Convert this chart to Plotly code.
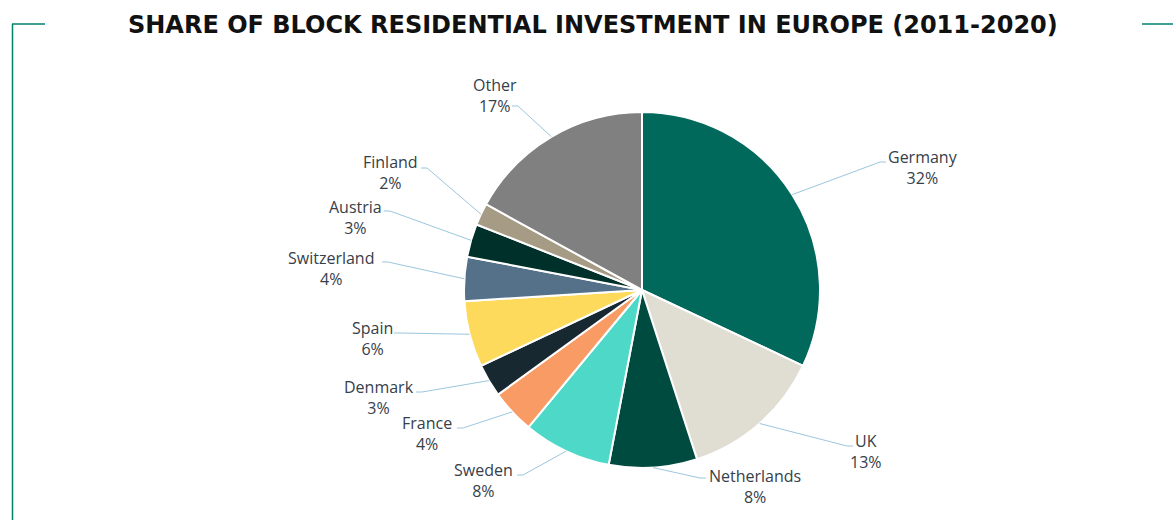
import math
import plotly.graph_objects as go

# ---- data ----
countries = ["Germany", "UK", "Netherlands", "Sweden", "France", "Denmark",
             "Spain", "Switzerland", "Austria", "Finland", "Other"]
shares = [32, 13, 8, 8, 4, 3, 6, 4, 3, 2, 17]
colors = ["#00695C", "#E0DDD3", "#004B40", "#4DD8C8", "#F99B65", "#172831",
          "#FDD95C", "#557189", "#00302A", "#A69C86", "#808080"]
title_text = "SHARE OF BLOCK RESIDENTIAL INVESTMENT IN EUROPE (2011-2020)"

# ---- layout (pixels) ----
W, H = 1173, 520
CX, CY, R = 642, 290, 178
# label text centres and leader elbows (pixel layout hints)
label_centres = [(923, 168), (866, 451), (755, 486), (483, 480), (427, 433),
                 (379, 397), (372, 338), (331, 268), (355, 217), (390, 173),
                 (495, 95)]
elbows = [(880, 162), (847, 446), (700, 478), (523, 475), (463, 428),
          (422, 392), (400, 333), (388, 262), (390, 211), (427, 168),
          (518, 106)]


def px(x):
    return x / W


def py(y):
    return 1 - y / H


fig = go.Figure(go.Pie(
    labels=countries, values=shares, sort=False, direction="clockwise",
    rotation=0, marker=dict(colors=colors, line=dict(color="white", width=2)),
    textinfo="none", hoverinfo="label+percent", showlegend=False,
    domain=dict(x=[px(CX - R), px(CX + R)], y=[py(CY + R), py(CY - R)]),
))

total = sum(shares)
cum = 0
shapes = []
annotations = []
for i, (name, v) in enumerate(zip(countries, shares)):
    mid = (cum + v / 2) / total * 2 * math.pi
    cum += v
    ex = CX + R * math.sin(mid)
    ey = CY - R * math.cos(mid)
    bx, by = elbows[i]
    lx, ly = label_centres[i]
    hx = bx + (6 if lx > bx else -6)
    shapes.append(dict(
        type="path", xref="paper", yref="paper",
        path=f"M {px(ex)},{py(ey)} L {px(bx)},{py(by)} L {px(hx)},{py(by)}",
        line=dict(color="#9CC6DE", width=1)))
    annotations.append(dict(
        x=px(lx), y=py(ly), xref="paper", yref="paper",
        text=f"{name}<br>{round(v / total * 100)}%", showarrow=False,
        xanchor="center", yanchor="middle", align="center",
        font=dict(family="Open Sans", size=16, color="#36404A")))

# decorative corner lines
deco = "#00806E"
shapes += [
    dict(type="line", xref="paper", yref="paper", x0=px(12), y0=py(24), x1=px(45), y1=py(24),
         line=dict(color=deco, width=1.5)),
    dict(type="line", xref="paper", yref="paper", x0=px(12.5), y0=py(24), x1=px(12.5), y1=0,
         line=dict(color=deco, width=1.5)),
    dict(type="line", xref="paper", yref="paper", x0=px(1142), y0=py(24), x1=1, y1=py(24),
         line=dict(color=deco, width=1.5)),
]

annotations.append(dict(
    x=px(593), y=py(25), xref="paper", yref="paper", text=f"<b>{title_text}</b>",
    showarrow=False, xanchor="center", yanchor="middle",
    font=dict(family="DejaVu Sans", size=24, color="#111111")))

fig.update_layout(
    width=W, height=H, margin=dict(l=0, r=0, t=0, b=0),
    paper_bgcolor="white", plot_bgcolor="white",
    shapes=shapes, annotations=annotations,
)

fig.write_html("out.html", config={"displayModeBar": False},
               post_script="document.body.style.margin='0';document.body.style.overflow='hidden';")
